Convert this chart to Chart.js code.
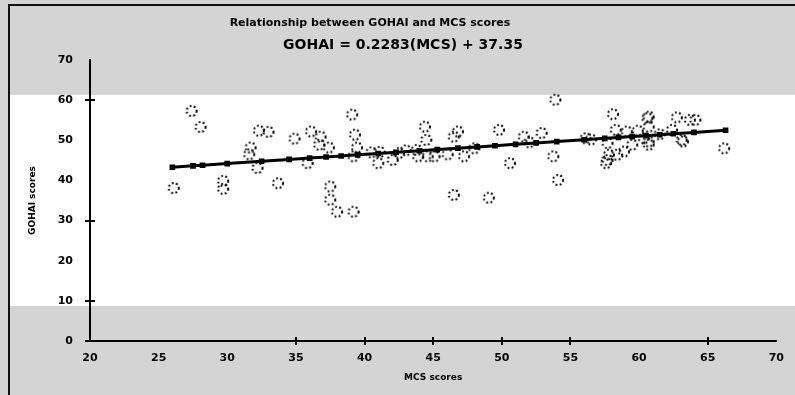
<!DOCTYPE html>
<html>
<head>
<meta charset="utf-8">
<script src="https://cdn.jsdelivr.net/npm/chart.js@4/dist/chart.umd.min.js"></script>
<style>
  html, body { margin: 0; padding: 0; background: #d4d4d4; }
  canvas { display: block; }
</style>
</head>
<body>
<canvas id="chart" width="795" height="395"></canvas>
<script>
const mcsScores = [26.1, 27.4, 28.05, 29.7, 29.7, 31.7, 31.6, 32.3, 33.0, 32.2, 33.7, 34.9, 36.1, 36.8, 36.7, 37.4,
  35.85, 39.1, 39.3, 39.45, 39.2, 41.0, 42.05, 37.5, 37.5, 38.0, 39.2, 44.4, 44.5, 44.6, 45.1, 46.8, 46.5, 46.05,
  47.25, 46.5, 49.05, 49.8, 50.6, 51.6, 52.9, 53.9, 53.75, 54.1, 58.1, 60.6, 60.7, 62.75, 63.7, 63.1, 56.1, 57.7,
  57.8, 57.7, 57.6, 58.4, 58.9, 59.5, 60.35, 60.7, 58.3, 59.1, 59.9, 62.4, 60.7, 64.1, 63.2, 66.2, 60.7, 40.5,
  42.5, 48.0, 52.0, 56.5, 61.5, 43.0, 41.1, 43.8, 43.9];
const gohaiScores = [38.1, 57.3, 53.3, 39.9, 37.9, 48.2, 46.5, 52.4, 52.1, 43.1, 39.3, 50.4, 52.2, 50.9, 48.9, 48.2,
  44.3, 56.4, 51.4, 48.2, 46.0, 44.3, 45.1, 38.5, 35.2, 32.2, 32.2, 53.4, 50.1, 46.0, 46.0, 52.2, 50.9, 46.5,
  46.0, 36.4, 35.7, 52.6, 44.3, 50.9, 51.8, 60.1, 46.0, 40.1, 56.5, 55.5, 53.4, 55.7, 55.1, 50.1, 50.5, 49.3,
  46.4, 45.1, 44.3, 46.4, 47.2, 48.9, 50.5, 48.9, 52.6, 52.2, 52.4, 52.6, 55.9, 55.1, 49.7, 48.0, 49.7, 47.0,
  46.8, 48.0, 49.5, 50.2, 51.5, 47.5, 47.1, 47.6, 46.0];

// fitted line markers
const fitMcs = [26.0, 27.5, 28.2, 30.0, 32.5, 34.5, 36.0, 37.2, 38.3, 39.5, 41.0, 42.3, 44.0, 45.3, 46.8, 48.2,
  49.5, 51.0, 52.5, 54.0, 56.0, 57.5, 58.5, 59.5, 60.5, 61.5, 62.5, 64.0, 66.3];
const fitGohai = [43.29, 43.63, 43.79, 44.20, 44.77, 45.23, 45.57, 45.84, 46.09, 46.37, 46.71, 47.01, 47.40, 47.69,
  48.03, 48.35, 48.65, 48.99, 49.34, 49.68, 50.13, 50.48, 50.71, 50.93, 51.16, 51.39, 51.62, 51.96, 52.49];

const xTickMarks = [35, 40, 45, 50, 55, 65];
const yTickMarks = [0, 10, 30, 60];
const whiteBand = [8.7, 61.3];

const chartTitle = 'Relationship between GOHAI and MCS scores';
const equationText = 'GOHAI = 0.2283(MCS) + 37.35';
const xTitle = 'MCS scores';
const yTitle = 'GOHAI scores';

const FONT = '"DejaVu Sans", Verdana, sans-serif';

function dottedCircle(r) {
  const c = document.createElement('canvas');
  const s = Math.ceil(r * 2 + 4);
  c.width = c.height = s;
  const g = c.getContext('2d');
  g.setLineDash([1.8, 2.4]);
  g.lineWidth = 2;
  g.strokeStyle = '#000';
  g.beginPath();
  g.arc(s / 2, s / 2, r, 0, Math.PI * 2);
  g.stroke();
  return c;
}

const backdrop = {
  id: 'backdrop',
  beforeDraw(chart) {
    const { ctx, width, height } = chart;
    const y = chart.scales.y;
    ctx.save();
    ctx.fillStyle = '#d4d4d4';
    ctx.fillRect(0, 0, width, height);
    const top = y.getPixelForValue(whiteBand[1]);
    const bot = y.getPixelForValue(whiteBand[0]);
    ctx.fillStyle = '#ffffff';
    ctx.fillRect(10, top, width - 10, bot - top);
    // frame
    ctx.strokeStyle = '#111';
    ctx.lineWidth = 2;
    ctx.beginPath();
    ctx.moveTo(9, height);
    ctx.lineTo(9, 5);
    ctx.lineTo(width, 5);
    ctx.stroke();
    ctx.restore();
  },
  afterDatasetsDraw(chart) {
    const { ctx } = chart;
    const { x, y } = chart.scales;
    ctx.save();
    ctx.strokeStyle = '#000';
    ctx.lineWidth = 2;
    ctx.beginPath();
    xTickMarks.forEach(v => {
      const px = Math.round(x.getPixelForValue(v));
      ctx.moveTo(px, y.bottom - 4);
      ctx.lineTo(px, y.bottom + 4);
    });
    yTickMarks.forEach(v => {
      const py = Math.round(y.getPixelForValue(v));
      ctx.moveTo(x.left - 5, py);
      ctx.lineTo(x.left + 5, py);
    });
    ctx.stroke();

    // titles
    ctx.fillStyle = '#000';
    ctx.textAlign = 'center';
    ctx.textBaseline = 'middle';
    ctx.font = 'bold 11px ' + FONT;
    ctx.fillText(chartTitle, 370, 23);
    ctx.font = 'bold 14px ' + FONT;
    ctx.fillText(equationText, 403, 45);
    ctx.font = 'bold 9px ' + FONT;
    ctx.fillText(xTitle, (x.left + x.right) / 2, 378);
    ctx.translate(33, (y.top + y.bottom) / 2);
    ctx.rotate(-Math.PI / 2);
    ctx.fillText(yTitle, 0, 0);
    ctx.restore();
  }
};

const tickFont = { family: FONT, size: 11, weight: 'bold' };

new Chart(document.getElementById('chart'), {
  type: 'scatter',
  data: {
    datasets: [
      {
        label: 'Fit',
        type: 'line',
        data: fitMcs.map((v, i) => ({ x: v, y: fitGohai[i] })),
        borderColor: '#000',
        borderWidth: 3,
        backgroundColor: '#000',
        pointStyle: 'rect',
        pointRadius: 4,
        pointBorderWidth: 0,
        tension: 0,
        order: 0
      },
      {
        label: 'Scores',
        data: mcsScores.map((v, i) => ({ x: v, y: gohaiScores[i] })),
        pointStyle: dottedCircle(5),
        order: 1
      }
    ]
  },
  options: {
    responsive: false,
    animation: false,
    layout: { padding: { top: 60, right: 11, left: 0, bottom: 0 } },
    plugins: {
      legend: { display: false },
      tooltip: { enabled: false }
    },
    scales: {
      x: {
        type: 'linear',
        min: 20,
        max: 70,
        afterFit(scale) { scale.height = 54; },
        ticks: { stepSize: 5, color: '#000', font: tickFont, padding: 11, maxRotation: 0 },
        grid: { display: false, drawTicks: false },
        border: { display: true, color: '#000', width: 2 }
      },
      y: {
        min: 0,
        max: 70,
        afterFit(scale) { scale.width = 90; },
        ticks: { stepSize: 10, color: '#000', font: tickFont, padding: 17 },
        grid: { display: false, drawTicks: false },
        border: { display: true, color: '#000', width: 2 }
      }
    }
  },
  plugins: [backdrop]
});
</script>
</body>
</html>
